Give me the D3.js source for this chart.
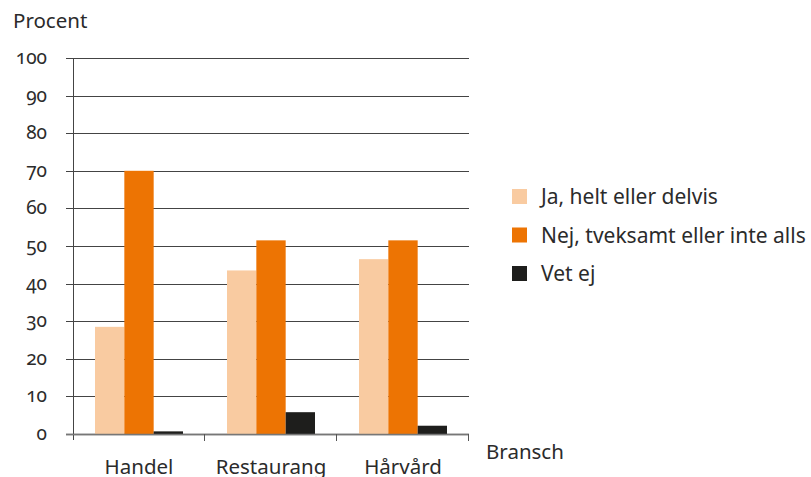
<!DOCTYPE html>
<html>
<head>
<meta charset="utf-8">
<script src="https://cdn.jsdelivr.net/npm/d3@7"></script>
<style>
  body { margin: 0; background: #fff; }
  text { font-family: "Noto Sans", sans-serif; fill: #2b2b2b; font-feature-settings: "onum"; }
</style>
</head>
<body>
<script>
var width = 811,
    height = 477;

// data
var categories = ['Handel', 'Restaurang', 'Hårvård'];
var seriesNames = ['Ja, helt eller delvis', 'Nej, tveksamt eller inte alls', 'Vet ej'];
var ja = [28.5, 43.5, 46.5];
var nej = [70, 51.5, 51.5];
var vetej = [0.7, 5.8, 2.2];
var yTicks = [0, 10, 20, 30, 40, 50, 60, 70, 80, 90, 100];
var colors = ['#f9cba1', '#ed7403', '#1e1e1c'];

var series = [ja, nej, vetej];

var plotLeft = 73, plotRight = 469, plotTop = 58, plotBottom = 434;

var svg = d3.select('body').append('svg').attr('width', width).attr('height', height);

var x = d3.scaleBand().domain(categories).range([plotLeft, plotRight]).paddingInner(0).paddingOuter(0);
var inner = d3.scaleBand().domain(d3.range(3)).range([22, x.bandwidth() - 22]);
var y = d3.scaleLinear().domain([0, 100]).range([plotBottom, plotTop]);

// gridlines
svg.append('g').selectAll('line')
    .data(yTicks)
    .enter().append('line')
    .attr('x1', plotLeft - 7).attr('x2', plotRight)
    .attr('y1', function (d) { return Math.round(y(d)) + 0.5; })
    .attr('y2', function (d) { return Math.round(y(d)) + 0.5; })
    .style('stroke', function (d) { return d === 0 ? '#777' : '#444'; })
    .style('stroke-width', function (d) { return d === 0 ? 1.5 : 1; });

// y axis line
svg.append('line')
    .attr('x1', plotLeft + 0.5).attr('x2', plotLeft + 0.5)
    .attr('y1', y(100)).attr('y2', plotBottom + 6)
    .style('stroke', '#444');

// y tick labels
svg.append('g').selectAll('text')
    .data(yTicks)
    .enter().append('text')
    .attr('x', 47)
    .attr('y', function (d) { return y(d) + 6; })
    .attr('text-anchor', 'end')
    .style('font-size', '19px')
    .text(function (d) { return d; });

// bars
var groups = svg.append('g').selectAll('g')
    .data(categories)
    .enter().append('g')
    .attr('transform', function (d) { return 'translate(' + x(d) + ',0)'; });

groups.selectAll('rect')
    .data(function (d, i) { return series.map(function (s, k) { return { k: k, v: s[i] }; }); })
    .enter().append('rect')
    .attr('x', function (d) { return inner(d.k); })
    .attr('width', inner.bandwidth())
    .attr('y', function (d) { return y(d.v); })
    .attr('height', function (d) { return plotBottom - y(d.v); })
    .style('fill', function (d) { return colors[d.k]; });

// x axis baseline and category ticks
svg.append('line')
    .attr('x1', plotLeft - 7).attr('x2', plotRight)
    .attr('y1', plotBottom + 0.5).attr('y2', plotBottom + 0.5)
    .style('stroke', '#777').style('stroke-width', 1.5);

svg.append('g').selectAll('line')
    .data(categories)
    .enter().append('line')
    .attr('x1', function (d) { return Math.round(x(d) + x.bandwidth()) - 0.5; })
    .attr('x2', function (d) { return Math.round(x(d) + x.bandwidth()) - 0.5; })
    .attr('y1', plotBottom).attr('y2', plotBottom + 7)
    .style('stroke', '#555');

// category labels
svg.append('g').selectAll('text')
    .data(categories)
    .enter().append('text')
    .attr('x', function (d) { return x(d) + x.bandwidth() / 2; })
    .attr('y', 474)
    .attr('text-anchor', 'middle')
    .style('font-size', '20.5px')
    .text(function (d) { return d; });

// axis titles
svg.append('text').attr('x', 13).attr('y', 28).style('font-size', '20.5px').text('Procent');
svg.append('text').attr('x', 486).attr('y', 459).style('font-size', '20.5px').text('Bransch');

// legend
var legend = svg.append('g').selectAll('g')
    .data(seriesNames)
    .enter().append('g')
    .attr('transform', function (d, i) { return 'translate(512,' + (189 + i * 38.5) + ')'; });

legend.append('rect')
    .attr('width', 15).attr('height', 15)
    .style('fill', function (d, i) { return colors[i]; });

legend.append('text')
    .attr('x', 29).attr('y', 15)
    .style('font-size', '21px')
    .text(function (d) { return d; });
</script>
</body>
</html>
